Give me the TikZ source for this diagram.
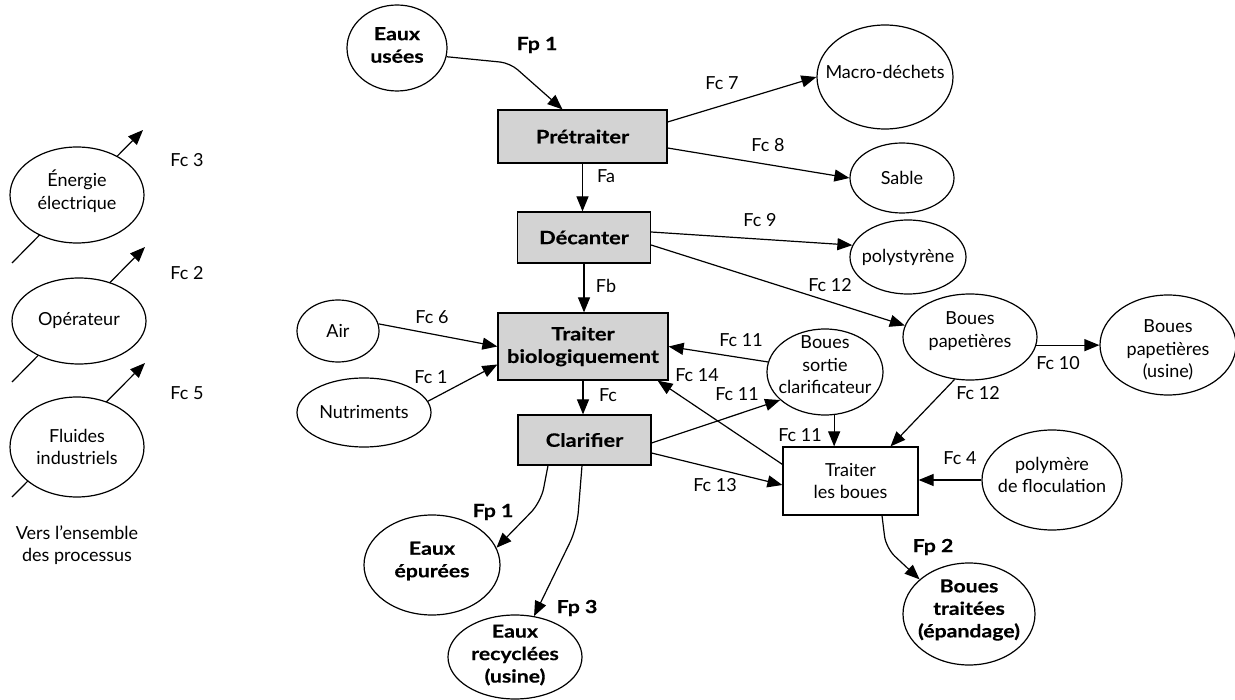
\documentclass[tikz,border=0pt]{standalone}
\usepackage{fontspec}
\setmainfont{Lato}[BoldFeatures={FakeStretch=1.18,FakeBold=0.4}]
\usetikzlibrary{shapes.geometric,arrows.meta,calc}
\definecolor{boxgray}{RGB}{211,211,211}
\begin{document}
\begin{tikzpicture}[x=1pt,y=-1pt,
  font=\fontsize{18}{22.5}\selectfont,
  every node/.style={inner sep=0pt, align=center},
  oval/.style 2 args={ellipse, draw, line width=1.2pt, fill=white, minimum width=#1, minimum height=#2},
  proc/.style={rectangle, draw, line width=1.2pt, fill=boxgray, font=\fontsize{18.5}{22.5}\selectfont\bfseries},
  plainbox/.style={rectangle, draw, line width=1.2pt, fill=white},
  flow/.style={line width=1.2pt, -{Triangle[length=15pt,width=12pt]}},
  lab/.style={},
  blab/.style={font=\fontsize{18}{22.5}\selectfont\bfseries},
]
\useasboundingbox (0,0) rectangle (1235,700);

% ---------- left column ----------
\coordinate (e1) at (12,263); \coordinate (e2) at (143,130);
\coordinate (o1) at (12,382); \coordinate (o2) at (145,247);
\coordinate (f1) at (12,497); \coordinate (f2) at (145,363);
\draw[flow] (e1) -- (e2);
\draw[flow] (o1) -- (o2);
\draw[flow] (f1) -- (f2);
\node[oval={134pt}{96pt}, label={[yshift=4pt]center:Énergie\\électrique}] (ene) at (77,195) {};
\node[oval={134pt}{86pt}, label={center:Opérateur}] (op) at (79,321) {};
\node[oval={134pt}{100pt}, label={center:Fluides\\industriels}] (flu) at (77,447) {};
\node[lab] (lfc3) at (187,160) {Fc 3};
\node[lab] (lfc2) at (187,273) {Fc 2};
\node[lab] (lfc5) at (187,393) {Fc 5};
\node[lab] (vers) at (77,545) {Vers l’ensemble\\des processus};

% ---------- process boxes ----------
\node[proc, minimum width=169pt, minimum height=53pt] (pre) at (582.5,136.5) {Prétraiter};
\node[proc, minimum width=133pt, minimum height=51pt] (dec) at (584,237.5) {Décanter};
\node[proc, minimum width=170pt, minimum height=67pt] (bio) at (583,346.5) {Traiter\\biologiquement};
\node[proc, minimum width=133pt, minimum height=50pt] (cla) at (584.5,440) {Clarifier};
\node[plainbox, minimum width=135pt, minimum height=68pt] (tlb) at (850.5,481) {Traiter\\les boues};

% ---------- ellipses ----------
\node[oval={100pt}{86pt}, label={[blab,yshift=3pt]center:Eaux\\usées}] (eu) at (397,48) {};
\node[oval={136pt}{104pt}, label={[yshift=5pt]center:Macro-déchets}] (macro) at (885,77) {};
\node[oval={104pt}{70pt}, label={center:Sable}] (sable) at (902,178) {};
\node[oval={116pt}{74pt}, label={center:polystyrène}] (poly) at (908,257) {};
\node[oval={134pt}{86pt}, label={[yshift=6pt]center:Boues\\papetières}] (bp) at (970,337) {};
\node[oval={136pt}{100pt}, label={[yshift=-5pt]center:Boues\\papetières\\(usine)}] (bpu) at (1168,345) {};
\node[oval={116pt}{86pt}, label={[yshift=7pt]center:Boues\\sortie\\clarificateur}] (bsc) at (825,372) {};
\node[oval={82pt}{62pt}, label={center:Air}] (air) at (338,331) {};
\node[oval={134pt}{69pt}, label={center:Nutriments}] (nut) at (364,412.5) {};
\node[oval={140pt}{100pt}, label={[yshift=5pt]center:polymère\\de floculation}] (poly2) at (1052,480) {};
\node[oval={136pt}{100pt}, label={[blab,yshift=4pt]center:Eaux\\épurées}] (ep) at (432,565) {};
\node[oval={134pt}{84pt}, label={[blab,yshift=2pt]center:Eaux\\recyclées\\(usine)}] (er) at (515,657) {};
\node[oval={132pt}{102pt}, label={[blab,yshift=4pt]center:Boues\\traitées\\(épandage)}] (bt) at (969,614) {};

% ---------- connectors ----------
\draw[flow, rounded corners=10pt] (eu.-10) -- (510,63) -- ([xshift=-20pt]pre.north);
\draw[flow] ([yshift=14.5pt]pre.east) -- (macro.west);
\draw[flow] ([yshift=-11.5pt]pre.east) -- (sable.west);
\draw[flow] (pre.south) -- (pre.south |- dec.north);
\draw[flow] ([yshift=5.5pt]dec.east) -- (poly.168);
\draw[flow] ([yshift=-7.5pt]dec.east) -- (bp.170);
\draw[flow] (dec.south) -- (dec.south |- bio.north);
\draw[flow] (air.10) -- (bio.west);
\draw[flow] (nut.10) -- ([yshift=-18pt]bio.west);
\draw[flow] (bio.south) -- (bio.south |- cla.north);
\draw[flow] (bsc.170) -- (bio.east);
\draw[flow] ([yshift=-3pt]cla.east) -- (bsc.212);
\draw[flow] ([yshift=-18pt]tlb.north west) -- ([xshift=-11pt]bio.south east);
\draw[flow] ([yshift=-13pt]cla.east) -- ([yshift=-4pt]tlb.west);
\draw[flow] (bsc.-78) -- (bsc.-78 |- tlb.north);
\draw[flow] (bp.-110) -- ([xshift=40pt]tlb.north);
\draw[flow] (bp.-7) -- (bp.-7 -| bpu.west);
\draw[flow] (poly2.west) -- (poly2.west -| tlb.east);
\draw[flow, rounded corners=12pt] ([xshift=31.5pt]tlb.south) -- (886,548) -- (bt.145);
\draw[flow, rounded corners=14pt] ([xshift=-36.5pt]cla.south) -- (541,502) -- (ep.15);
\draw[flow, rounded corners=16pt] ([xshift=-2.5pt]cla.south) -- (577,528) -- (er.65);

% ---------- flow labels ----------
\node[blab] (lfp1a) at (537,45) {Fp 1};
\node[lab] (lfc7) at (722,83) {Fc 7};
\node[lab] (lfc8) at (768,145) {Fc 8};
\node[lab] (lfa) at (606,176) {Fa};
\node[lab] (lfc9) at (760,220) {Fc 9};
\node[lab] (lfb) at (606,286) {Fb};
\node[lab] (lfc12a) at (830,285) {Fc 12};
\node[lab] (lfc6) at (432,317) {Fc 6};
\node[lab] (lfc1) at (431,377) {Fc 1};
\node[lab] (lfc11a) at (741,340) {Fc 11};
\node[lab] (lfc14) at (697,375) {Fc 14};
\node[lab] (lfc11b) at (737,394) {Fc 11};
\node[lab] (lfc) at (608,395) {Fc};
\node[lab] (lfc11c) at (800,435) {Fc 11};
\node[lab] (lfc12b) at (978,393) {Fc 12};
\node[lab] (lfc10) at (1058,363) {Fc 10};
\node[lab] (lfc4) at (960,458) {Fc 4};
\node[lab] (lfc13) at (715,485) {Fc 13};
\node[blab] (lfp1b) at (493,512) {Fp 1};
\node[blab] (lfp3) at (577,608) {Fp 3};
\node[blab] (lfp2) at (933,547) {Fp 2};
\end{tikzpicture}
\end{document}
